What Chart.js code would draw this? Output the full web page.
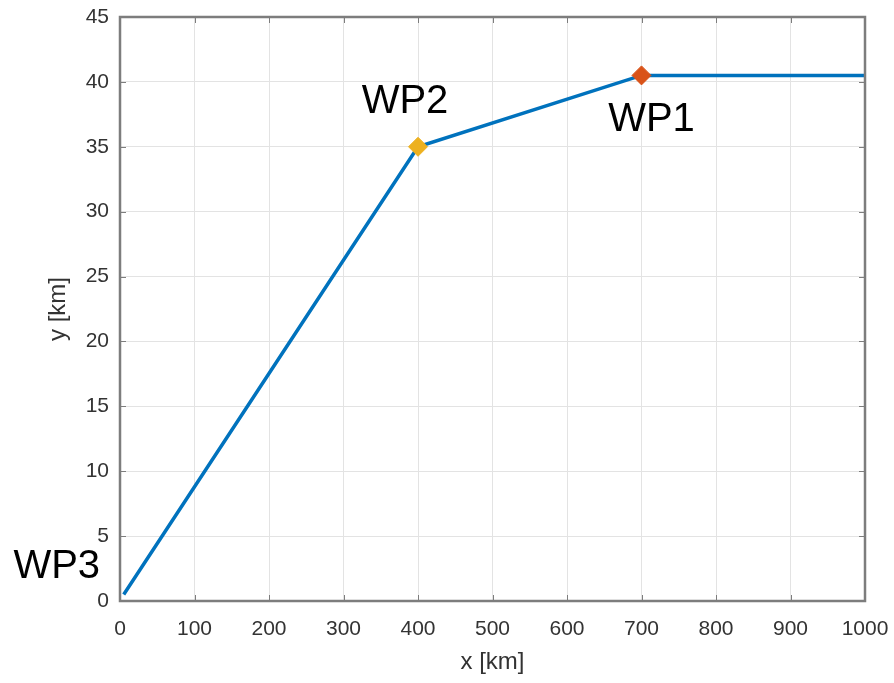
<!DOCTYPE html>
<html lang="en">
<head>
  <meta charset="UTF-8">
  <title>Waypoint track</title>
  <script src="https://cdn.jsdelivr.net/npm/chart.js@4.4.1/dist/chart.umd.min.js"></script>
  <style>
    body { margin: 0; background: #fff; }
    #wrap { width: 894px; height: 683px; }
  </style>
</head>
<body>
  <div id="wrap">
    <canvas id="track" width="894" height="683"></canvas>
  </div>

  <script>
    // track vertices [km]
    const trackX = [5, 400, 700, 1000];
    const trackY = [0.5, 35, 40.5, 40.5];

    // waypoints
    const wpNames = ['WP3', 'WP2', 'WP1'];
    const wpX = [5, 400, 700];
    const wpY = [0.5, 35, 40.5];
    const wpMarker = [false, true, true];

    const xTicks = [0, 100, 200, 300, 400, 500, 600, 700, 800, 900, 1000];
    const yTicks = [0, 5, 10, 15, 20, 25, 30, 35, 40, 45];

    const FONT = '"Liberation Sans", Arial, Helvetica, sans-serif';
    const AXIS_COLOR = '#7d7d7d';

    // label offsets from each waypoint, in px
    const labelOffset = [[-67, -28], [-13, -45], [10, 45]];

    const trackPoints = trackX.map((x, i) => ({ x: x, y: trackY[i] }));
    const markerPoints = wpX.map((x, i) => ({ x: x, y: wpY[i] })).filter((p, i) => wpMarker[i]);
    const markerColors = ['#EDB120', '#D95319'];

    // box around the axes plus inward tick marks, and the WP labels
    const axesBox = {
      id: 'axesBox',
      afterDatasetsDraw(chart) {
        const { ctx, chartArea: a, scales } = chart;
        ctx.save();
        ctx.strokeStyle = AXIS_COLOR;
        ctx.lineWidth = 1;
        const tl = 6;
        ctx.beginPath();
        xTicks.forEach(v => {
          const px = Math.round(scales.x.getPixelForValue(v)) + 0.5;
          ctx.moveTo(px, a.bottom); ctx.lineTo(px, a.bottom - tl);
          ctx.moveTo(px, a.top); ctx.lineTo(px, a.top + tl);
        });
        yTicks.forEach(v => {
          const py = Math.round(scales.y.getPixelForValue(v)) + 0.5;
          ctx.moveTo(a.left, py); ctx.lineTo(a.left + tl, py);
          ctx.moveTo(a.right, py); ctx.lineTo(a.right - tl, py);
        });
        ctx.stroke();
        ctx.lineWidth = 2.5;
        ctx.strokeRect(a.left, a.top, a.right - a.left, a.bottom - a.top);

        ctx.fillStyle = '#000';
        ctx.font = '40px ' + FONT;
        ctx.textAlign = 'center';
        ctx.textBaseline = 'middle';
        wpNames.forEach((name, i) => {
          const px = scales.x.getPixelForValue(wpX[i]) + labelOffset[i][0];
          const py = scales.y.getPixelForValue(wpY[i]) + labelOffset[i][1];
          ctx.fillText(name, px, py);
        });
        ctx.restore();
      }
    };

    new Chart(document.getElementById('track'), {
      type: 'scatter',
      data: {
        datasets: [
          {
            data: markerPoints,
            showLine: false,
            pointStyle: 'rectRot',
            pointRadius: 9.5,
            pointBackgroundColor: markerColors,
            pointBorderColor: markerColors,
            order: 0
          },
          {
            data: trackPoints,
            showLine: true,
            borderColor: '#0072BD',
            borderWidth: 3.5,
            pointRadius: 0,
            tension: 0,
            order: 1
          }
        ]
      },
      options: {
        responsive: false,
        animation: false,
        layout: { padding: { top: 17, right: 29, left: 0, bottom: 0 } },
        plugins: {
          legend: { display: false },
          tooltip: { enabled: false }
        },
        scales: {
          x: {
            type: 'linear',
            min: 0,
            max: 1000,
            afterFit(scale) {
              scale.height = 82;
              scale.paddingLeft = 0;
              scale.paddingRight = 0;
            },
            afterBuildTicks(scale) { scale.ticks = xTicks.map(v => ({ value: v })); },
            ticks: {
              padding: 16,
              color: '#333',
              font: { family: FONT, size: 21 },
              maxRotation: 0,
              callback: v => String(v)
            },
            grid: { color: '#e3e3e3', lineWidth: 1, drawTicks: false },
            border: { display: false },
            title: {
              display: true,
              text: 'x [km]',
              color: '#333',
              font: { family: FONT, size: 24 },
              padding: { top: 0, bottom: 6 }
            }
          },
          y: {
            type: 'linear',
            min: 0,
            max: 45,
            afterFit(scale) {
              scale.width = 120;
              scale.paddingTop = 0;
              scale.paddingBottom = 0;
            },
            afterBuildTicks(scale) { scale.ticks = yTicks.map(v => ({ value: v })); },
            ticks: {
              padding: 11,
              color: '#333',
              font: { family: FONT, size: 21 }
            },
            grid: { color: '#e3e3e3', lineWidth: 1, drawTicks: false },
            border: { display: false },
            title: {
              display: true,
              text: 'y [km]',
              color: '#333',
              font: { family: FONT, size: 24 },
              padding: { top: 44, bottom: 0 }
            }
          }
        }
      },
      plugins: [axesBox]
    });
  </script>
</body>
</html>
